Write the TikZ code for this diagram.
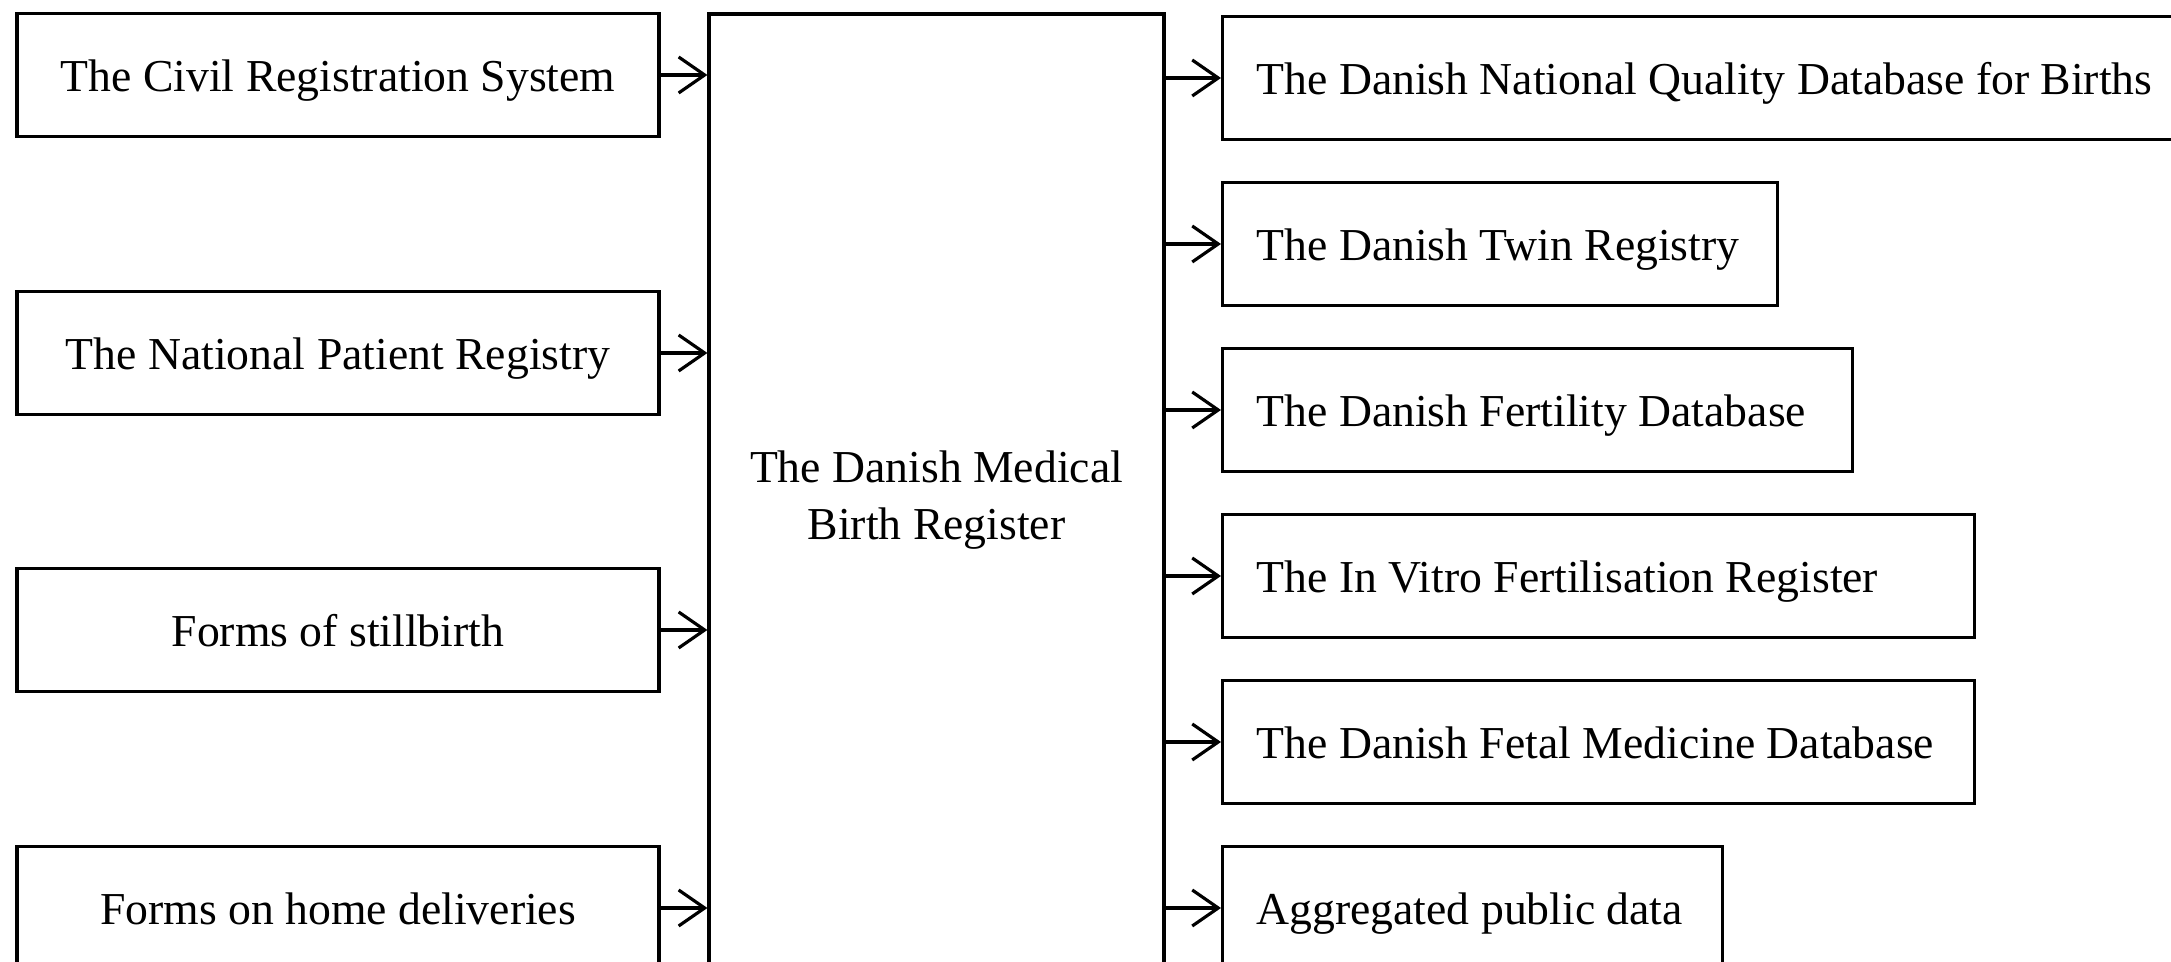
\documentclass[tikz,border=0pt]{standalone}
\usepackage{fontspec}
\setmainfont{Liberation Serif}
\usetikzlibrary{arrows.meta}

\begin{document}
\begin{tikzpicture}[
		box/.style={draw, line width=0.9pt, minimum height=1.23cm, inner sep=0pt, font=\fontsize{13}{16}\selectfont},
		src/.style={box, minimum width=6.42cm, text height=9.4pt, text depth=0pt},
		dst/.style={box, anchor=west, inner xsep=3.4mm, align=flush left, text height=9.4pt, text depth=0pt},
		feed/.style={line width=0.9pt, -{Straight Barb[length=2.6mm,width=3.6mm]}}]
		\useasboundingbox (0,0) rectangle (21.71,9.62);
		\clip (0,0) rectangle (21.71,9.62);
		\node[src] (crs) at (3.38,8.87) {The Civil Registration System};
		\node[src] (npr) at (3.38,6.09) {The National Patient Registry};
		\node[src] (still) at (3.38,3.32) {Forms of stillbirth};
		\node[src] (home) at (3.38,0.54) {Forms on home deliveries};
		\node[box, minimum width=4.55cm, minimum height=9.72cm, align=center] (mbr) at (9.365,4.62) {The Danish Medical\\Birth Register};
		\node[dst, text width=9.22cm] (births) at (12.21,8.84) {\mbox{The Danish National Quality Database for Births}};
		\node[dst, text width=4.87cm] (twin) at (12.21,7.18) {\mbox{The Danish Twin Registry}};
		\node[dst, text width=5.62cm] (fert) at (12.21,5.52) {\mbox{The Danish Fertility Database}};
		\node[dst, text width=6.84cm] (ivf) at (12.21,3.86) {\mbox{The In Vitro Fertilisation Register}};
		\node[dst, text width=6.84cm] (fetal) at (12.21,2.20) {\mbox{The Danish Fetal Medicine Database}};
		\node[dst, text width=4.32cm] (public) at (12.21,0.54) {\mbox{Aggregated public data}};
		\foreach \s in {crs,npr,still,home}
			\draw[feed] (\s.east) -- (\s.east -| mbr.west);
		\foreach \d in {births,twin,fert,ivf,fetal,public}
			\draw[feed] (mbr.east |- \d.west) -- (\d.west);
\end{tikzpicture}
\end{document}
